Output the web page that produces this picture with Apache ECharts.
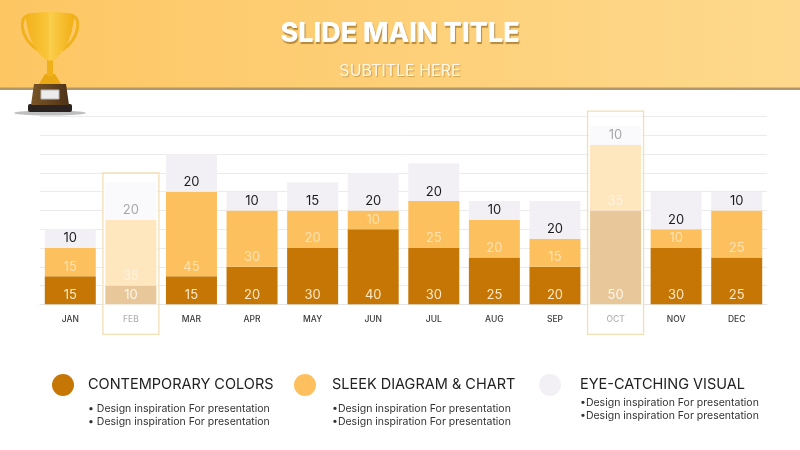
<!DOCTYPE html>
<html>
<head>
<meta charset="utf-8">
<script src="https://cdn.jsdelivr.net/npm/echarts@6/dist/echarts.min.js"></script>
<style>
  html, body { margin: 0; padding: 0; background: #fff; }
  #chart { width: 800px; height: 450px; }
</style>
</head>
<body>
<div id="chart"></div>
<script>
// dados do grafico
const meses = ["JAN", "FEB", "MAR", "APR", "MAY", "JUN", "JUL", "AUG", "SEP", "OCT", "NOV", "DEC"];
const contemporary = [15, 10, 15, 20, 30, 40, 30, 25, 20, 50, 30, 25];
const sleek = [15, 35, 45, 30, 20, 10, 25, 20, 15, 35, 10, 25];
const eyeCatching = [10, 20, 20, 10, 15, 20, 20, 10, 20, 10, 20, 10];
const nomesSeries = ["CONTEMPORARY COLORS", "SLEEK DIAGRAM & CHART", "EYE-CATCHING VISUAL"];
const destaqueMeses = ["FEB", "OCT"];
const destaqueTopo = [70, 103];
const yMin = 0, yMax = 100, yInterval = 10;

const cores = ["#c67605", "#fdc05e", "#f2f0f4"];
const corRotulo = ["#fde9c6", "#fde2b2", "#1c1c1c"];
const fonte = "Inter, 'Open Sans', sans-serif";

const chart = echarts.init(document.getElementById("chart"));

function serieBarra(i, valores) {
  return {
    name: nomesSeries[i],
    type: "bar",
    stack: "total",
    barWidth: 51,
    data: valores,
    itemStyle: { color: cores[i] },
    label: {
      show: true,
      position: "insideBottom",
      distance: 3,
      color: corRotulo[i],
      fontSize: 13,
      fontFamily: fonte
    },
    z: 2
  };
}

const ouro = new echarts.graphic.LinearGradient(0, 0, 1, 0, [
  { offset: 0, color: "#f3b21c" }, { offset: 0.45, color: "#f9c53a" },
  { offset: 0.5, color: "#fbcf4c" }, { offset: 1, color: "#f1ae14" }]);

// trofeu desenhado com graphic
const trofeu = {
  type: "group",
  x: 10,
  y: 12,
  children: [
    { type: "ellipse", shape: { cx: 40, cy: 101, rx: 36, ry: 2.5 }, style: { fill: "rgba(0,0,0,0.25)" } },
    { type: "rect", shape: { x: 18, y: 92, width: 44, height: 8, r: 2 }, style: { fill: "#2b2320" } },
    { type: "polygon", shape: { points: [[24, 72], [56, 72], [59, 93], [21, 93]] },
      style: { fill: new echarts.graphic.LinearGradient(0, 0, 1, 0, [{ offset: 0, color: "#7a5528" }, { offset: 1, color: "#4d3217" }]) } },
    { type: "rect", shape: { x: 31, y: 78, width: 18, height: 9 }, style: { fill: "#ececec", stroke: "#b8b8b8", lineWidth: 1 } },
    { type: "polygon", shape: { points: [[29, 72], [51, 72], [45, 62], [35, 62]] }, style: { fill: "#eaa814" } },
    { type: "rect", shape: { x: 37, y: 46, width: 6, height: 18 }, style: { fill: "#f0b01a" } },
    { type: "bezierCurve", shape: { x1: 18, y1: 4, cpx1: 9, cpy1: 4, cpx2: 9, cpy2: 26, x2: 28, y2: 38 },
      style: { fill: null, stroke: "#efb11c", lineWidth: 3 } },
    { type: "bezierCurve", shape: { x1: 62, y1: 4, cpx1: 71, cpy1: 4, cpx2: 71, cpy2: 26, x2: 52, y2: 38 },
      style: { fill: null, stroke: "#efb11c", lineWidth: 3 } },
    { type: "polygon",
      shape: { points: [[17, 2], [63, 2], [62, 18], [58, 30], [51, 41], [44, 48], [36, 48], [29, 41], [22, 30], [18, 18]], smooth: 0.2 },
      style: { fill: ouro } }
  ]
};

// legenda desenhada
const legendaX = [63, 305, 550];
const legendaTextoX = [88, 332, 580];
const bulletY = [[409, 422], [409, 422], [403, 416]];
const bullets = ["• Design inspiration For presentation", "•Design inspiration For presentation", "•Design inspiration For presentation"];

const legenda = [];
nomesSeries.forEach((nome, i) => {
  legenda.push({ type: "circle", shape: { cx: legendaX[i], cy: 385, r: 11 }, style: { fill: cores[i] } });
  legenda.push({ type: "text", x: legendaTextoX[i], y: 385,
    style: { text: nome, font: "14.5px " + fonte, fill: "#222", verticalAlign: "middle" } });
  bulletY[i].forEach(y => {
    legenda.push({ type: "text", x: legendaTextoX[i], y: y,
      style: { text: bullets[i], font: "10.5px " + fonte, fill: "#333", verticalAlign: "middle" } });
  });
});

const option = {
  backgroundColor: "#ffffff",
  animation: false,
  title: {
    text: "SLIDE MAIN TITLE",
    subtext: "SUBTITLE HERE",
    left: "center",
    top: 15,
    itemGap: 16,
    textStyle: {
      color: "#ffffff", fontSize: 27, fontWeight: 800, fontFamily: fonte,
      textShadowColor: "rgba(120,80,10,0.55)", textShadowOffsetX: 1, textShadowOffsetY: 2, textShadowBlur: 1
    },
    subtextStyle: {
      color: "#fff8ea", fontSize: 16, fontFamily: fonte,
      textShadowColor: "rgba(150,100,20,0.45)", textShadowOffsetX: 1, textShadowOffsetY: 1, textShadowBlur: 1
    },
    z: 10
  },
  grid: { left: 40, right: 33, top: 116.7, bottom: 145.7 },
  xAxis: {
    type: "category",
    data: meses,
    axisLine: { lineStyle: { color: "#e4e4e4" } },
    axisTick: { show: false },
    axisLabel: { color: "#3a3a3a", fontSize: 8.5, fontFamily: fonte, fontWeight: 500, margin: 11 }
  },
  yAxis: {
    type: "value",
    min: yMin, max: yMax, interval: yInterval,
    axisLabel: { show: false },
    axisLine: { show: false },
    axisTick: { show: false },
    splitLine: { lineStyle: { color: "#ebebeb", width: 1 } }
  },
  graphic: [
    { type: "rect", z: -10, shape: { x: 0, y: 0, width: 800, height: 88 },
      style: { fill: new echarts.graphic.LinearGradient(0, 0, 1, 0, [{ offset: 0, color: "#fdc663" }, { offset: 1, color: "#fed98d" }]) } },
    { type: "rect", z: -9, shape: { x: 0, y: 87.5, width: 800, height: 2.5 }, style: { fill: "#b09668" } },
    trofeu
  ].concat(legenda),
  series: [
    serieBarra(0, contemporary),
    serieBarra(1, sleek),
    serieBarra(2, eyeCatching),
    {
      type: "custom",
      z: 20,
      silent: true,
      clip: false,
      data: destaqueMeses.map((m, i) => [m, destaqueTopo[i]]),
      encode: { x: 0, y: 1 },
      renderItem(params, api) {
        const topo = api.coord([api.value(0), api.value(1)]);
        const base = api.coord([api.value(0), 0]);
        return {
          type: "rect",
          shape: { x: topo[0] - 28, y: topo[1], width: 56, height: base[1] - topo[1] + 30 },
          style: { fill: "rgba(255,255,255,0.6)", stroke: "#f1dfb6", lineWidth: 1.3 }
        };
      }
    }
  ]
};

chart.setOption(option);
</script>
</body>
</html>
